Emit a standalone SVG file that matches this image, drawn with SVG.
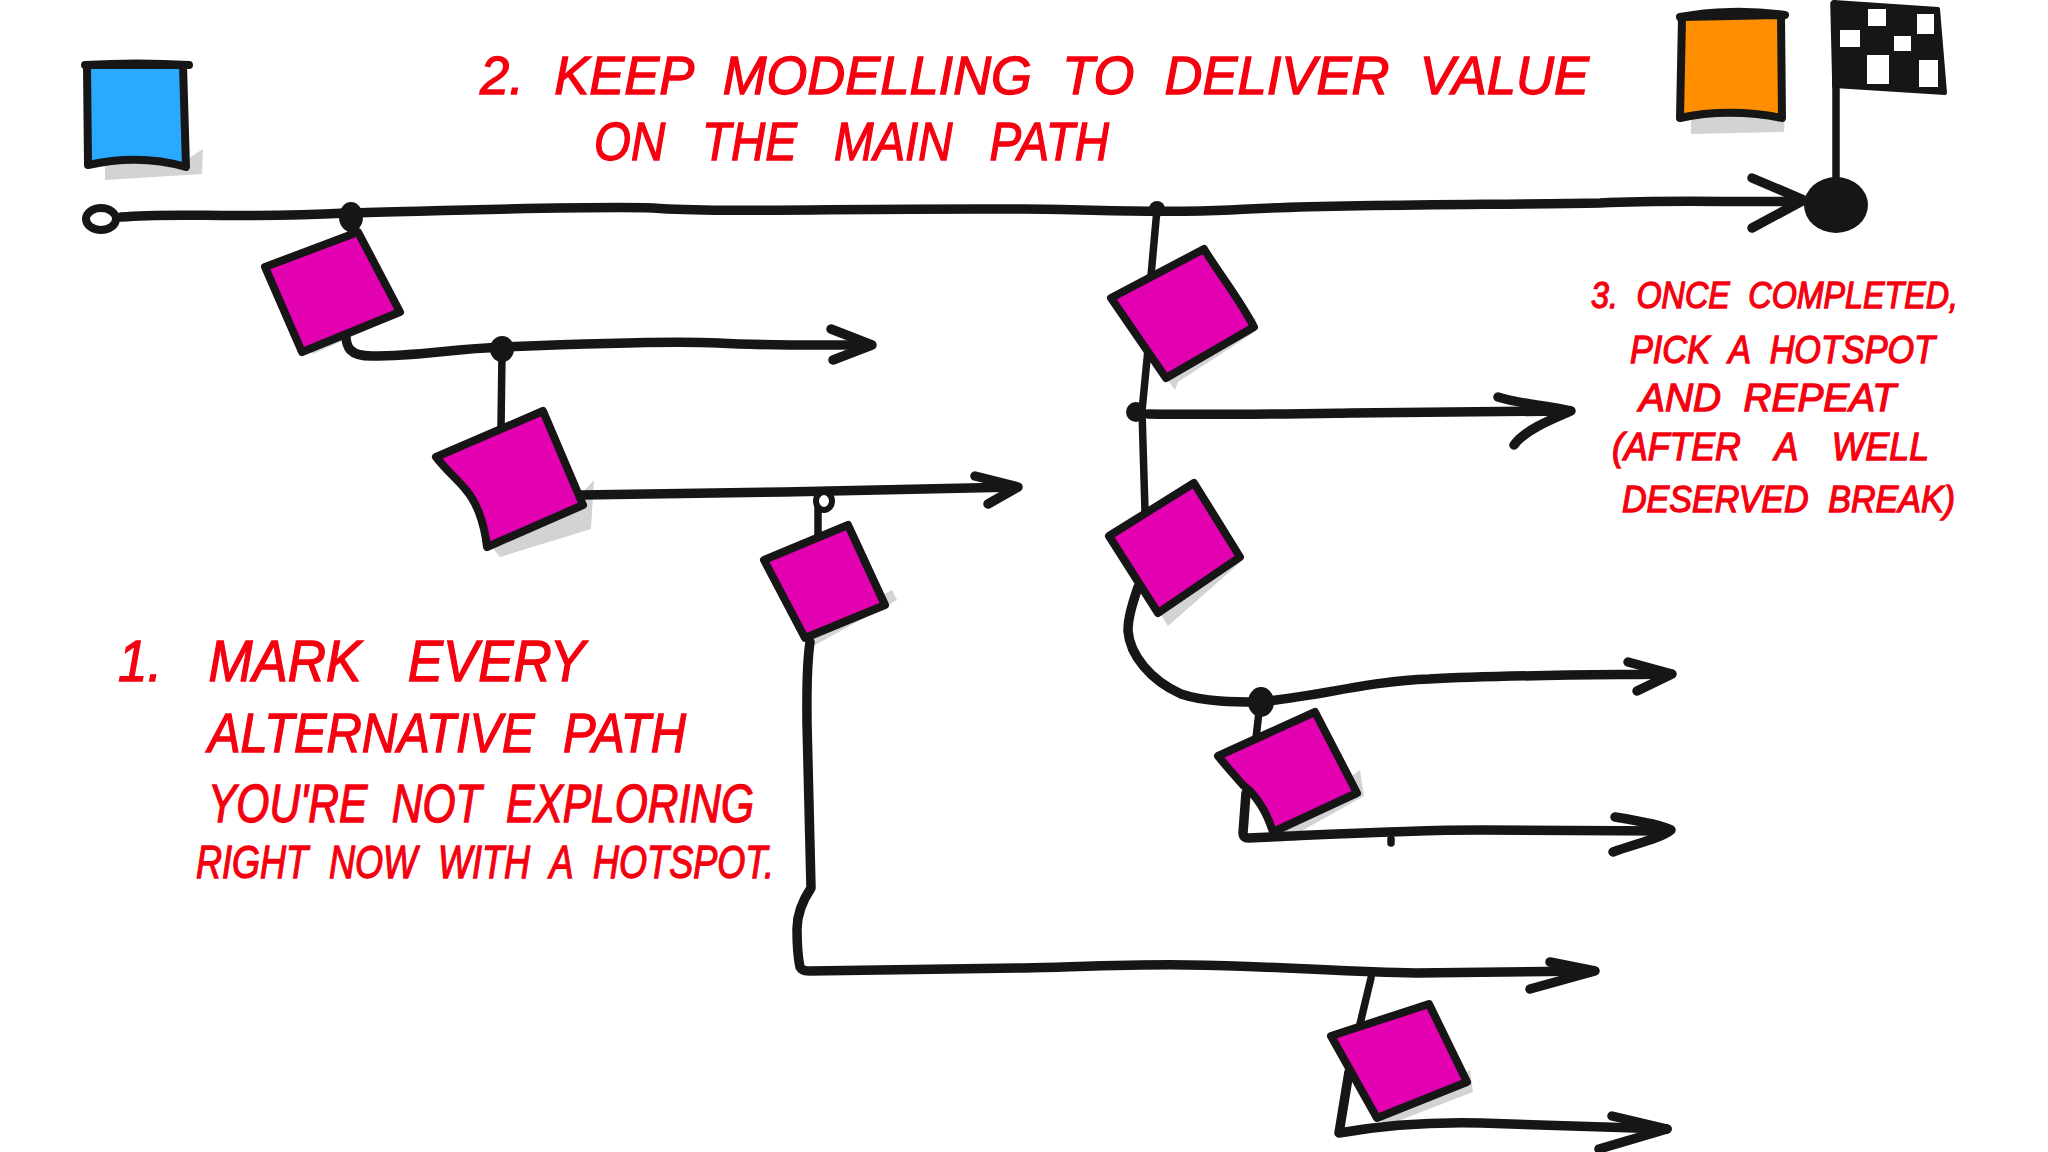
<svg xmlns="http://www.w3.org/2000/svg" width="2048" height="1152" viewBox="0 0 2048 1152">
<style>
.sh{fill:#d3d3d5;stroke:none}
.ln{fill:none;stroke:#161616;stroke-width:9.5;stroke-linecap:round;stroke-linejoin:round}
.th{fill:none;stroke:#161616;stroke-width:7.5;stroke-linecap:round;stroke-linejoin:round}
.dot{fill:#161616;stroke:none}
.box{stroke:#161616;stroke-width:8;stroke-linecap:round;stroke-linejoin:round}
.hot{fill:#e300b0}
.t{font-family:"Liberation Sans",Arial,sans-serif;font-style:italic;fill:#f5000f;stroke:#f5000f;stroke-width:1.3;word-spacing:.3em}
</style>
<rect width="2048" height="1152" fill="#ffffff"/>
<g id="shadows">
<path class="sh" d="M105 180L202 174L203 149L186 160L105 165Z"/>
<path class="sh" d="M1691 134L1784 132L1785 112L1691 112Z"/>
<path class="sh" d="M313 354L398 316L398 300L302 345Z"/>
<path class="sh" d="M500 557L591 529L594 480L580 495L490 545Z"/>
<path class="sh" d="M815 645L897 600L892 590L805 635Z"/>
<path class="sh" d="M1178 382L1253 333L1256 318L1166 378L1175 390Z"/>
<path class="sh" d="M1168 626L1243 560L1230 550L1158 610Z"/>
<path class="sh" d="M1282 842L1364 796L1360 770L1273 832Z"/>
<path class="sh" d="M1385 1126L1473 1092L1470 1070L1377 1116Z"/>
</g>
<g id="connectors">
<path class="ln" d="M121 217C180 212 230 219 346 213C470 210 590 206 653 208C720 213 840 208 1024 209C1090 209 1150 214 1230 210C1320 204 1500 205 1600 203C1680 199 1740 203 1801 201"/>
<path class="ln" d="M1752 178L1804 200L1752 228"/>
<path class="th" d="M351 217L351 233"/>
<path class="ln" d="M346 331C345 348 350 356 372 356C420 356 450 349 503 347C600 343 680 341 718 343C770 346 820 345 869 345"/>
<path class="ln" d="M831 329L872 345L833 360"/>
<path class="th" d="M502 353L501 428"/>
<path class="ln" d="M581 495L784 492L1016 487"/>
<path class="ln" d="M975 476L1018 487L988 504"/>
<path class="th" d="M818 507L818 536"/>
<path class="ln" d="M810 642C806 670 807 700 807 723L811 888C803 900 797 915 797 929C797 945 798 958 800 967C802 971 806 971 810 971L1024 968C1100 966 1150 964 1187 965C1280 966 1340 972 1416 973L1590 971"/>
<path class="ln" d="M1550 962L1595 971L1530 989"/>
<path class="th" d="M1157 209L1151 276M1148 349L1142 411L1145 511"/>
<path class="ln" d="M1148 414C1220 415 1280 414 1351 413L1566 411"/>
<path class="ln" d="M1498 397C1520 404 1545 405 1571 411C1550 420 1525 430 1514 445"/>
<path class="ln" d="M1138 587C1132 605 1128 618 1128 631C1130 655 1150 680 1181 694C1205 702 1235 702 1259 702C1320 696 1370 681 1429 679C1500 675 1590 675 1671 674"/>
<path class="ln" d="M1628 662L1672 674L1637 691"/>
<path class="th" d="M1259 712L1256 738"/>
<path class="ln" d="M1246 793L1243 833C1243 837 1245 838 1249 838C1320 835 1400 830 1481 830L1667 831"/>
<path class="ln" d="M1615 817C1640 821 1662 825 1671 830C1662 838 1635 844 1613 852"/>
<path class="th" d="M1391 839L1391 843"/>
<path class="th" d="M1371 978L1360 1024"/>
<path class="ln" d="M1349 1072L1339 1133C1390 1124 1440 1122 1481 1123L1667 1129"/>
<path class="ln" d="M1612 1116L1667 1129L1599 1149"/>
<ellipse class="dot" cx="351" cy="217" rx="12" ry="15"/>
<ellipse class="dot" cx="502" cy="349" rx="12" ry="13"/>
<ellipse cx="824" cy="501" rx="8" ry="9" fill="#ffffff" stroke="#161616" stroke-width="6"/>
<ellipse class="dot" cx="1157" cy="209" rx="8" ry="8"/>
<ellipse class="dot" cx="1136" cy="412" rx="10" ry="10"/>
<ellipse class="dot" cx="1261" cy="702" rx="13" ry="15"/>
</g>
<g id="start"><ellipse cx="101" cy="219" rx="15" ry="11" fill="#ffffff" stroke="#161616" stroke-width="8"/></g>
<g id="end-flag">
<path class="th" d="M1836 178L1836 88L1834 4"/>
<path d="M1834 2L1938 9L1945 93L1834 86Z" fill="#161616" stroke="#161616" stroke-width="4" stroke-linejoin="round"/>
<g fill="#ffffff">
<rect x="1868" y="9" width="18" height="17"/><rect x="1917" y="14" width="17" height="20"/>
<rect x="1840" y="30" width="20" height="17"/><rect x="1894" y="36" width="17" height="15"/>
<rect x="1867" y="55" width="22" height="29"/><rect x="1919" y="60" width="19" height="27"/>
</g>
<ellipse class="dot" cx="1836" cy="205" rx="32" ry="28"/>
</g>
<g id="blue-note"><path class="box" fill="#29a9ff" d="M85 65C120 63 155 63 189 65M87 65L88 165C120 158 155 158 186 167L183 65Z"/></g>
<g id="orange-note"><path class="box" fill="#ff8f00" d="M1680 17C1710 11 1750 10 1785 15M1682 17L1680 118C1710 111 1750 111 1782 118L1781 15Z"/></g>
<g id="hotspot-1"><path class="box hot" d="M265 267L358 232L400 312L302 352Z"/></g>
<g id="hotspot-2"><path class="box hot" d="M436 457L543 411L583 505L487 547C484 520 475 500 466 490C458 480 446 470 436 457Z"/></g>
<g id="hotspot-3"><path class="box hot" d="M764 560L848 525L885 605L805 638Z"/></g>
<g id="hotspot-4"><path class="box hot" d="M1111 298L1204 249C1220 275 1240 300 1254 327L1166 378Z"/></g>
<g id="hotspot-5"><path class="box hot" d="M1109 536L1194 483L1240 557L1158 613Z"/></g>
<g id="hotspot-6"><path class="box hot" d="M1218 756L1315 712L1357 793L1273 832C1266 810 1256 795 1243 785C1235 776 1226 766 1218 756Z"/></g>
<g id="hotspot-7"><path class="box hot" d="M1331 1036L1429 1004L1467 1082L1377 1118Z"/></g>
<g id="note-2">
<text class="t" x="480" y="94" font-size="54" textLength="1109" lengthAdjust="spacingAndGlyphs">2. KEEP MODELLING TO DELIVER VALUE</text>
<text class="t" x="594" y="160" font-size="54" textLength="515" lengthAdjust="spacingAndGlyphs" style="word-spacing:.5em">ON THE MAIN PATH</text>
</g>
<g id="note-3">
<text class="t" x="1591" y="308" font-size="36" textLength="367" lengthAdjust="spacingAndGlyphs">3. ONCE COMPLETED,</text>
<text class="t" x="1630" y="363" font-size="38" textLength="305" lengthAdjust="spacingAndGlyphs">PICK A HOTSPOT</text>
<text class="t" x="1639" y="411" font-size="38" textLength="257" lengthAdjust="spacingAndGlyphs">AND REPEAT</text>
<text class="t" x="1612" y="460" font-size="38" textLength="317" lengthAdjust="spacingAndGlyphs" style="word-spacing:.7em">(AFTER A WELL</text>
<text class="t" x="1622" y="512" font-size="36" textLength="333" lengthAdjust="spacingAndGlyphs">DESERVED BREAK)</text>
</g>
<g id="note-1">
<text class="t" x="118" y="681" font-size="58" textLength="467" lengthAdjust="spacingAndGlyphs" style="word-spacing:.6em">1. MARK EVERY</text>
<text class="t" x="208" y="752" font-size="56" textLength="478" lengthAdjust="spacingAndGlyphs">ALTERNATIVE PATH</text>
<text class="t" x="208" y="822" font-size="54" textLength="546" lengthAdjust="spacingAndGlyphs">YOU'RE NOT EXPLORING</text>
<text class="t" x="196" y="878" font-size="46" textLength="578" lengthAdjust="spacingAndGlyphs">RIGHT NOW WITH A HOTSPOT.</text>
</g>
</svg>
